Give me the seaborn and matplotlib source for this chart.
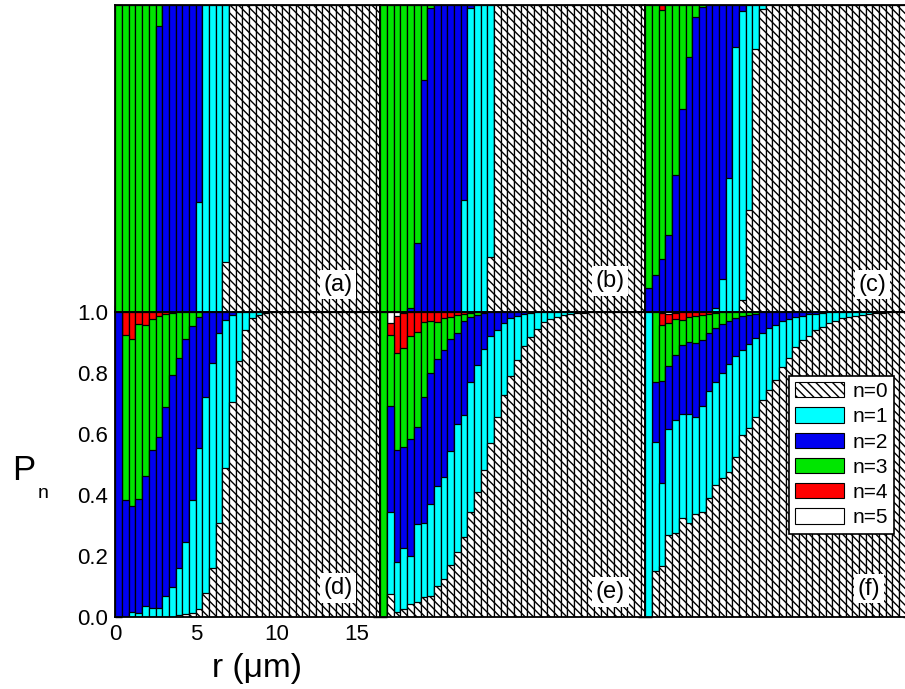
import numpy as np
import matplotlib
matplotlib.use("Agg")
import matplotlib.pyplot as plt
from matplotlib.patches import Patch
from matplotlib.ticker import MultipleLocator
import seaborn as sns

sns.set_theme(style="white")
plt.rcParams['font.family'] = ['Liberation Sans', 'DejaVu Sans']
plt.rcParams['hatch.linewidth'] = 1.0
plt.rcParams['hatch.color'] = 'black'
plt.rcParams['text.color'] = 'black'

# ---------------- data ----------------
N_BARS = 40
R_STEP = 0.414                      # radial bin width (um)
r_centers = (np.arange(N_BARS) + 0.5) * R_STEP

# cumulative probabilities P(n<=k) per radial bin; bins not listed are 1.0
a_le0 = [0, 0, 0, 0, 0, 0, 0, 0, 0, 0, 0, 0, 0, 0, 0, 0, 0.163]
a_le1 = [0, 0, 0, 0, 0, 0, 0, 0, 0, 0, 0, 0, 0.359]
a_le2 = [0, 0, 0, 0, 0, 0, 0.932]
a_le3 = []
a_le4 = []

b_le0 = [0, 0, 0, 0, 0, 0, 0, 0, 0, 0, 0, 0, 0, 0, 0, 0, 0.177]
b_le1 = [0, 0, 0, 0, 0, 0, 0, 0, 0, 0, 0, 0, 0.364, 0.99]
b_le2 = [0, 0, 0, 0, 0.011, 0.223, 0.756, 0.99]
b_le3 = []
b_le4 = []

c_le0 = [0, 0, 0, 0, 0, 0, 0, 0, 0, 0, 0, 0, 0, 0, 0.038, 0.33, 0.856, 0.986]
c_le1 = [0, 0, 0, 0, 0, 0, 0, 0, 0, 0, 0.011, 0.105, 0.435, 0.862, 0.98]
c_le2 = [0.076, 0.12, 0.171, 0.25, 0.446, 0.66, 0.83, 0.96, 0.993]
c_le3 = [1, 1, 0.984]
c_le4 = []

d_le0 = [0, 0, 0, 0, 0, 0, 0, 0, 0, 0.005, 0.01, 0.012, 0.025, 0.08, 0.16,
         0.307, 0.489, 0.705, 0.84, 0.94, 0.978, 0.99, 0.996]
d_le1 = [0, 0, 0.015, 0.014, 0.036, 0.028, 0.03, 0.069, 0.097, 0.16, 0.247,
         0.383, 0.552, 0.722, 0.833, 0.931, 0.973, 0.99]
d_le2 = [1, 0.383, 0.363, 0.385, 0.463, 0.547, 0.59, 0.687, 0.793, 0.847,
         0.909, 0.953, 0.984, 0.998]
d_le3 = [1, 0.924, 0.909, 0.961, 0.958, 0.976, 0.987, 0.992, 0.997]
d_le4 = []

e_le0 = [0, 0.075, 0.017, 0.025, 0.043, 0.05, 0.067, 0.069, 0.10, 0.123, 0.17,
         0.214, 0.263, 0.345, 0.41, 0.483, 0.569, 0.654, 0.727, 0.79, 0.843,
         0.888, 0.916, 0.942, 0.967, 0.975, 0.984, 0.989, 0.993, 0.995, 0.997]
e_le1 = [0, 0.345, 0.181, 0.225, 0.2, 0.305, 0.309, 0.37, 0.43, 0.46, 0.545,
         0.632, 0.662, 0.771, 0.825, 0.877, 0.92, 0.94, 0.964, 0.978, 0.986,
         0.992, 0.995]
e_le2 = [0, 0.691, 0.547, 0.558, 0.582, 0.623, 0.722, 0.80, 0.844, 0.874,
         0.909, 0.929, 0.97, 0.984, 0.989, 0.995]
e_le3 = [1, 0.924, 0.864, 0.88, 0.92, 0.934, 0.967, 0.97, 0.965, 0.978, 0.984,
         0.989, 0.992, 0.995]
e_le4 = [1, 0.962, 0.986, 0.995]

f_le0 = [0, 0.151, 0.167, 0.27, 0.276, 0.323, 0.307, 0.337, 0.345, 0.389,
         0.432, 0.454, 0.476, 0.525, 0.596, 0.618, 0.654, 0.711, 0.743, 0.776,
         0.82, 0.847, 0.885, 0.907, 0.92, 0.94, 0.951, 0.962, 0.971, 0.978,
         0.984, 0.987, 0.99, 0.992, 0.995, 0.996, 0.998]
f_le1 = [1, 0.574, 0.44, 0.615, 0.645, 0.665, 0.665, 0.656, 0.69, 0.74, 0.77,
         0.80, 0.83, 0.855, 0.875, 0.895, 0.915, 0.93, 0.945, 0.958, 0.968,
         0.976, 0.982, 0.987, 0.991, 0.994, 0.996]
f_le2 = [1, 0.771, 0.774, 0.822, 0.858, 0.891, 0.902, 0.898, 0.907, 0.93,
         0.945, 0.96, 0.97, 0.978, 0.985, 0.99, 0.994]
f_le3 = [1, 0.998, 0.956, 0.962, 0.975, 0.973, 0.982, 0.985, 0.99, 0.993, 0.996]
f_le4 = [1, 1, 0.997, 0.994, 0.995]

panel_labels = ['(a)', '(b)', '(c)', '(d)', '(e)', '(f)']
legend_labels = ['n=0', 'n=1', 'n=2', 'n=3', 'n=4', 'n=5']
x_ticks = [0, 5, 10, 15]
y_ticks = [0.0, 0.2, 0.4, 0.6, 0.8, 1.0]

# ---------------- style ----------------
COLORS = ['white', '#00ffff', '#0000f0', '#00e600', '#ff0000', 'white']
HATCH = '\\\\\\\\'
EDGE_LW = 0.9


def full(vals):
    return np.array(list(vals) + [1.0] * (N_BARS - len(vals)), dtype=float)


panels = [
    (a_le0, a_le1, a_le2, a_le3, a_le4),
    (b_le0, b_le1, b_le2, b_le3, b_le4),
    (c_le0, c_le1, c_le2, c_le3, c_le4),
    (d_le0, d_le1, d_le2, d_le3, d_le4),
    (e_le0, e_le1, e_le2, e_le3, e_le4),
    (f_le0, f_le1, f_le2, f_le3, f_le4),
]

W, H = 905, 689
fig = plt.figure(figsize=(W / 100, H / 100), dpi=100)
lefts_px = [115, 380, 645]
panel_w_px = 265
rows_px = [(5, 311.7), (311.7, 617)]
label_pos = [(0.842, 0.088), (0.868, 0.10), (0.857, 0.088),
             (0.842, 0.095), (0.870, 0.082), (0.845, 0.092)]

px_per_um = 6.67 / R_STEP
x_left = -0.03
x_right = x_left + panel_w_px / px_per_um

axes = []
for k, cum in enumerate(panels):
    row, col = divmod(k, 3)
    top_px, bot_px = rows_px[row]
    ax = fig.add_axes([lefts_px[col] / W, (H - bot_px) / H,
                       panel_w_px / W, (bot_px - top_px) / H])
    axes.append(ax)
    levels = [full(c) for c in cum] + [np.ones(N_BARS)]
    # draw from the top level (n<=5) down to n<=0 so that segments stack
    for n in range(5, -1, -1):
        kw = dict(hatch=HATCH) if n == 0 else {}
        sns.barplot(x=r_centers, y=levels[n], color=COLORS[n], width=1.0,
                    native_scale=True, saturation=1, errorbar=None,
                    edgecolor='black', linewidth=EDGE_LW, ax=ax, **kw)
    ax.set_xlim(x_left, x_right)
    ax.set_ylim(0, 1)
    ax.set_xlabel('')
    ax.set_ylabel('')
    ax.set_xticks(x_ticks)
    ax.set_yticks(y_ticks)
    ax.yaxis.set_minor_locator(MultipleLocator(0.1))
    ax.tick_params(which='both', direction='in', top=True, right=True,
                   bottom=True, left=True, color='black', width=1.0,
                   labelsize=16, labelcolor='black', pad=5)
    ax.tick_params(which='major', length=5)
    ax.tick_params(which='minor', length=3)
    show = (k == 3)
    ax.tick_params(labelleft=show, labelbottom=show)
    if show:
        ax.set_yticklabels([f'{v:.1f}' for v in y_ticks])
        ax.set_xticklabels([str(v) for v in x_ticks])
    for sp in ax.spines.values():
        sp.set_color('black')
        sp.set_linewidth(1.3)
        sp.set_visible(True)
        sp.set_zorder(5)
    lx, ly = label_pos[k]
    ax.text(lx, ly, panel_labels[k], transform=ax.transAxes, fontsize=17,
            ha='center', va='center', zorder=6, color='black',
            bbox=dict(facecolor='white', edgecolor='none', pad=2.5))

# legend in panel (f)
handles = []
for n in range(6):
    handles.append(Patch(facecolor=COLORS[n], edgecolor='black', linewidth=0.8,
                         hatch=HATCH if n == 0 else None, label=legend_labels[n]))
leg = axes[5].legend(handles=handles, loc='upper right',
                     bbox_to_anchor=(0.94, 0.79), fontsize=15, frameon=True,
                     fancybox=False, edgecolor='black', framealpha=1,
                     handlelength=2.35, handleheight=0.75, labelspacing=0.3,
                     handletextpad=0.4, borderpad=0.3, borderaxespad=0,
                     labelcolor='black')
leg.get_frame().set_linewidth(1.2)
leg.set_zorder(7)

# axis labels
fig.text(257 / W, 1 - 668 / H, 'r (\u03bcm)', fontsize=24, ha='center',
         va='center', color='black')
fig.text(24 / W, 1 - 470 / H, 'P', fontsize=25, ha='center', va='center',
         color='black')
fig.text(43 / W, 1 - 493 / H, 'n', fontsize=14, ha='center', va='center',
         color='black')

fig.savefig('out.png', dpi=100)
